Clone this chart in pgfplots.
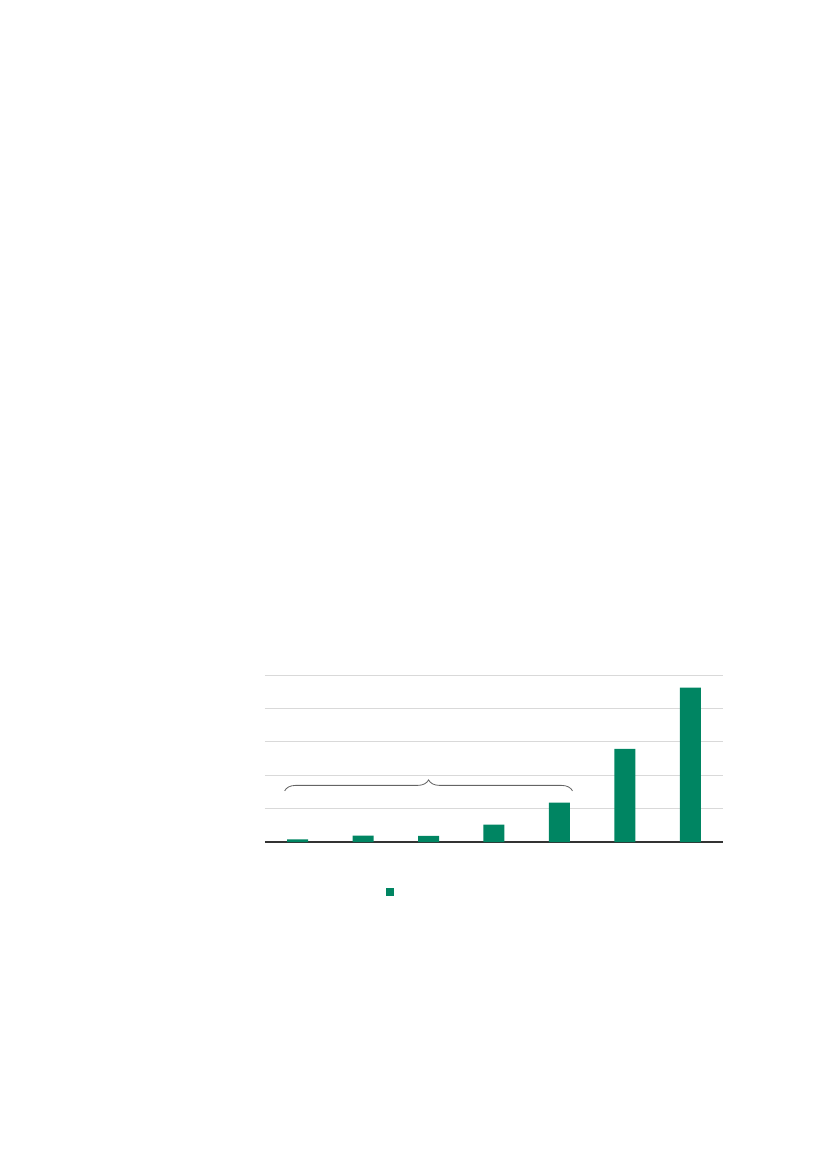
\documentclass[border=0pt]{standalone}
\usepackage{pgfplots}
\pgfplotsset{compat=1.18}
\usetikzlibrary{decorations.pathreplacing}
\definecolor{barGreen}{RGB}{0,133,98}
\definecolor{gridGray}{RGB}{217,217,217}
\definecolor{baseGray}{RGB}{51,51,51}
\definecolor{braceGray}{RGB}{100,100,100}

\begin{document}
\begin{tikzpicture}
  % page frame: 827 x 1169 px at 0.6pt per px, axis corner at (265,842) px
  \path[use as bounding box] (-159pt,-196.2pt) rectangle (337.2pt,505.2pt);

\begin{axis}[
    scale only axis,
    width=274.8pt, height=100.2pt,
    ybar, bar width=12.6pt, bar shift=0pt,
    xmin=-0.5, xmax=6.5,
    ymin=0, ymax=5,
    xtick=\empty,
    ytick={0,1,2,3,4,5}, yticklabels={},
    ymajorgrids,
    major grid style={gridGray, line width=0.6pt},
    major tick length=0pt,
    axis x line*=bottom,
    axis y line*=left,
    y axis line style={draw=none},
    x axis line style={baseGray, line width=0.7pt, -},
    legend style={draw=none, fill=none, inner sep=0pt, outer sep=0pt,
      at={(rel axis cs:0.275,-0.30)}, anchor=center,
      nodes={inner sep=0pt}},
    legend image code/.code={\fill[#1] (-2.2pt,-2.2pt) rectangle (2.2pt,2.2pt);},
  ]

\addplot[fill=barGreen, draw=none] coordinates {
  (0,0.08) (1,0.19) (2,0.18) (3,0.52) (4,1.18) (5,2.79) (6,4.62)
};
\addlegendentry{}

\draw[braceGray, line width=0.5pt, decorate, decoration={brace, amplitude=6.6pt}]
  (axis cs:-0.2,1.53) -- (axis cs:4.2,1.53);

\end{axis}
\end{tikzpicture}
\end{document}
